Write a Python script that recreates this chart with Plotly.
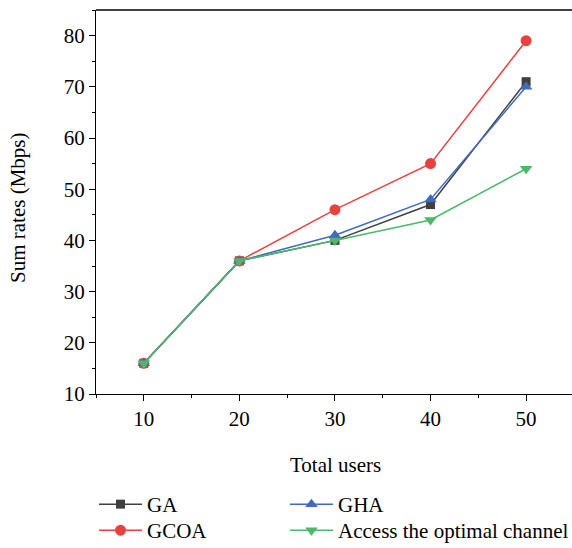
import plotly.graph_objects as go

# Sum rate versus number of users for each allocation scheme
users = [10, 20, 30, 40, 50]
ga = [16, 36, 40, 47, 71]
gcoa = [16, 36, 46, 55, 79]
gha = [16, 36, 41, 48, 70]
optimal = [16, 36, 40, 44, 54]

x_ticks = [10, 20, 30, 40, 50]
y_ticks = [10, 20, 30, 40, 50, 60, 70, 80]

FONT = "Liberation Serif"
FS = 21
W, H = 572, 548
L, R, T, B = 96, 0, 10, 154

# name, values, colour, marker symbol, marker size, legend slot (column, row)
series = [
    ("GA", ga, "#404040", "square", 9, (0, 0)),
    ("GCOA", gcoa, "#E8423F", "circle", 11, (0, 1)),
    ("GHA", gha, "#3F6BBF", "triangle-up", 11, (1, 0)),
    ("Access the optimal channel", optimal, "#4CB86A", "triangle-down", 11, (1, 1)),
]

pw = W - L - R
ph = H - T - B


def px_x(p):
    return (p - L) / pw


def px_y(p):
    return (H - B - p) / ph


col_left = [94, 285]
row_center = [507, 533]

fig = go.Figure()
legends = {}
for i, (name, vals, color, sym, size, (col, row)) in enumerate(series):
    key = "legend" if i == 0 else f"legend{i + 1}"
    fig.add_trace(go.Scatter(
        x=users, y=vals, name=name, mode="lines+markers",
        line=dict(color=color, width=1.5),
        marker=dict(symbol=sym, size=size, color=color),
        legend=key, showlegend=True,
    ))
    legends[key] = dict(
        x=px_x(col_left[col]), y=px_y(row_center[row] - 23),
        xanchor="left", yanchor="top",
        font=dict(family=FONT, size=FS, color="black"),
        bgcolor="rgba(0,0,0,0)", itemwidth=43,
    )

axis_common = dict(
    showline=True, linecolor="black", linewidth=1.3,
    ticks="outside", ticklen=6, tickwidth=1.2, tickcolor="black",
    showgrid=False, zeroline=False,
    tickfont=dict(family=FONT, size=FS, color="black"),
    minor=dict(ticks="outside", ticklen=3, tickwidth=1.2, tickcolor="black", dtick=5, showgrid=False),
)

fig.update_layout(
    width=W, height=H,
    showlegend=True,
    margin=dict(l=L, r=R, t=T, b=B, autoexpand=False),
    paper_bgcolor="white", plot_bgcolor="white",
    font=dict(family=FONT, size=FS, color="black"),
    xaxis=dict(range=[5, 5 + pw / 9.558], tickvals=x_ticks, **axis_common),
    yaxis=dict(range=[10, 85], tickvals=y_ticks, **axis_common),
    shapes=[
        dict(type="line", xref="paper", yref="paper", x0=0, x1=1, y0=1, y1=1,
             line=dict(color="black", width=1.3)),
    ],
    annotations=[
        dict(text="Total users", xref="paper", yref="paper",
             x=px_x(335), y=px_y(465), xanchor="center", yanchor="middle",
             showarrow=False, font=dict(family=FONT, size=FS)),
        dict(text="Sum rates (Mbps)", xref="paper", yref="paper",
             x=px_x(18), y=px_y(208), xanchor="center", yanchor="middle",
             textangle=-90, showarrow=False, font=dict(family=FONT, size=FS)),
    ],
    **legends,
)

fig.write_html("out.html")
